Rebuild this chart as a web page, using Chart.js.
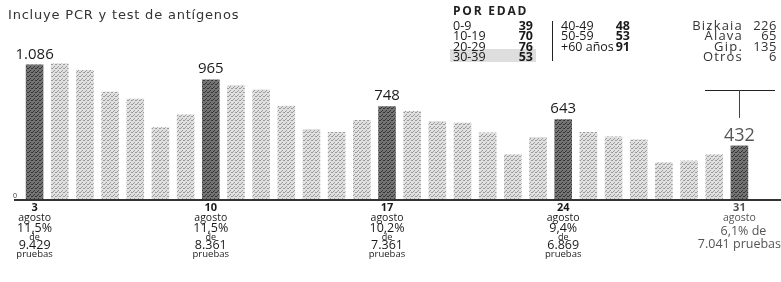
<!DOCTYPE html>
<html>
<head>
<meta charset="utf-8">
<script src="https://cdn.jsdelivr.net/npm/chart.js@4.4.0/dist/chart.umd.min.js"></script>
<style>
  body { margin: 0; background: #fff; font-family: "Open Sans", sans-serif; color: #1a1a1a; }
  #wrap { position: relative; width: 781px; height: 282px; overflow: hidden; }
  #chart { position: absolute; left: 0; top: 0; }
  .t { position: absolute; white-space: nowrap; line-height: 1; }
  .sub { left: 8px; top: 8px; font-family: "DejaVu Sans", sans-serif; font-size: 13px; letter-spacing: 0.8px; color: #333; }
  .head { left: 453px; top: 5px; font-size: 12px; font-weight: bold; letter-spacing: 1.8px; color: #222; }
  .row { font-size: 12.5px; }
  .terr { font-size: 13px; letter-spacing: 1.2px; color: #333; }
  .vline { position: absolute; left: 552px; top: 21px; width: 1px; height: 40px; background: #222; }
  .shade { position: absolute; left: 450px; top: 49px; width: 86px; height: 13px; background: #dedede; }
  .hline { position: absolute; left: 705px; top: 90px; width: 70px; height: 1px; background: #222; }
  .vline2 { position: absolute; left: 739px; top: 90px; width: 1px; height: 28px; background: #444; }
</style>
</head>
<body>
<div id="wrap">
  <canvas id="chart" width="781" height="282"></canvas>
  <div class="t sub">Incluye PCR y test de antígenos</div>
  <div class="t head">POR EDAD</div>
  <div class="shade"></div>
  <div class="vline"></div>
  <div class="hline"></div>
  <div class="vline2"></div>
  <div id="tables"></div>
</div>
<script>
// Days of August (categories)
const days = ['3', '4', '5', '6', '7', '8', '9', '10', '11', '12', '13', '14', '15', '16',
              '17', '18', '19', '20', '21', '22', '23', '24', '25', '26', '27', '28', '29', '30', '31'];

// New cases per day
const cases = [1086, 1095, 1041, 866, 810, 580, 682, 965, 920, 884, 753, 566, 540, 637,
               748, 710, 630, 615, 537, 360, 500, 643, 540, 505, 480, 295, 310, 360, 432];

// Weekly highlighted days and their notes
const markedDays = ['3', '10', '17', '24', '31'];
const valueLabels = ['1.086', '965', '748', '643', '432'];
const positivity = ['11,5%', '11,5%', '10,2%', '9,4%', '6,1%'];
const tests = ['9.429', '8.361', '7.361', '6.869', '7.041'];

// Age breakdown and territories
const ageGroupsA = ['0-9', '10-19', '20-29', '30-39'];
const ageValuesA = [39, 70, 76, 53];
const ageGroupsB = ['40-49', '50-59', '+60 años'];
const ageValuesB = [48, 53, 91];
const territories = ['Bizkaia', 'Álava', 'Gip.', 'Otros'];
const territoryValues = [226, 65, 135, 6];

// Build the small tables in the top right
const tables = document.getElementById('tables');
function addText(text, left, top, align, cls, extra) {
    const el = document.createElement('div');
    el.className = 't ' + (cls || 'row');
    el.textContent = text;
    el.style.top = top + 'px';
    if (align === 'right') {
        el.style.right = (781 - left) + 'px';
    } else {
        el.style.left = left + 'px';
    }
    if (extra) Object.assign(el.style, extra);
    tables.appendChild(el);
}
const rowTop = [19.5, 30, 40.5, 51];
ageGroupsA.forEach((g, i) => {
    addText(g, 453, rowTop[i]);
    addText(ageValuesA[i], 533, rowTop[i], 'right', 'row', { fontWeight: 'bold' });
});
ageGroupsB.forEach((g, i) => {
    addText(g, 561, rowTop[i]);
    addText(ageValuesB[i], 630, rowTop[i], 'right', 'row', { fontWeight: 'bold' });
});
territories.forEach((g, i) => {
    addText(g, 743, rowTop[i] - 1, 'right', 'terr');
    addText(territoryValues[i], 777, rowTop[i] - 1, 'right', 'terr', { letterSpacing: '0.5px' });
});

// Stippled fills like the print original
function stipple(base, dot) {
    const c = document.createElement('canvas');
    c.width = 4;
    c.height = 4;
    const g = c.getContext('2d');
    g.fillStyle = base;
    g.fillRect(0, 0, 4, 4);
    g.fillStyle = dot;
    g.fillRect(0, 0, 1, 1);
    g.fillRect(2, 2, 1, 1);
    g.fillRect(3, 0, 1, 1);
    g.fillRect(1, 3, 1, 1);
    return g.createPattern(c, 'repeat');
}
const ctx = document.getElementById('chart').getContext('2d');
const darkFill = stipple('#747474', '#343434');
const lightFill = stipple('#e0e0e0', '#9a9a9a');
const barColors = days.map(d => markedDays.includes(d) ? darkFill : lightFill);

// Labels above marked bars and notes under the axis
const annotations = {
    id: 'annotations',
    afterDatasetsDraw(chart) {
        const c = chart.ctx;
        const x = chart.scales.x;
        const y = chart.scales.y;
        const base = y.getPixelForValue(0);

        // baseline
        c.save();
        c.strokeStyle = '#333';
        c.lineWidth = 2;
        c.beginPath();
        c.moveTo(14, base + 1);
        c.lineTo(781, base + 1);
        c.stroke();

        c.fillStyle = '#333';
        c.font = '7px "Open Sans"';
        c.textAlign = 'left';
        c.textBaseline = 'middle';
        c.fillText('0', 13, base - 3);

        c.textAlign = 'center';
        markedDays.forEach((d, i) => {
            const idx = days.indexOf(d);
            const px = x.getPixelForValue(idx);
            const top = y.getPixelForValue(cases[idx]);
            const last = i === markedDays.length - 1;

            c.fillStyle = last ? '#555' : '#1a1a1a';
            c.font = (last ? '18px' : '15px') + ' "Open Sans"';
            c.textBaseline = 'alphabetic';
            c.fillText(valueLabels[i], px, top - (last ? 4 : 6));

            c.textBaseline = 'middle';
            c.fillStyle = last ? '#555' : '#1a1a1a';
            c.font = 'bold 11px "Open Sans"';
            c.fillText(d, px, base + 9);
            c.font = '10.5px "Open Sans"';
            c.fillText('agosto', px, base + 19);
            if (last) {
                c.font = '12.5px "Open Sans"';
                c.fillText(positivity[i] + ' de', px + 4, base + 32);
                c.fillText(tests[i] + ' pruebas', px, base + 45);
            } else {
                c.font = '12.5px "Open Sans"';
                c.fillText(positivity[i], px, base + 29);
                c.font = '9px "Open Sans"';
                c.fillText('de', px, base + 38);
                c.font = '12.5px "Open Sans"';
                c.fillText(tests[i], px, base + 46);
                c.font = '9.5px "Open Sans"';
                c.fillText('pruebas', px, base + 55);
            }
        });
        c.restore();
    }
};

new Chart(ctx, {
    type: 'bar',
    data: {
        labels: days,
        datasets: [{
            data: cases,
            backgroundColor: barColors,
            borderWidth: 0,
            barPercentage: 0.7,
            categoryPercentage: 1
        }]
    },
    options: {
        responsive: false,
        animation: false,
        layout: { padding: { left: 22, right: 29, top: 38, bottom: 83 } },
        scales: {
            x: { display: false },
            y: { display: false, min: 0, max: 1300 }
        },
        plugins: {
            legend: { display: false },
            tooltip: { enabled: false }
        }
    },
    plugins: [annotations]
});
</script>
</body>
</html>
